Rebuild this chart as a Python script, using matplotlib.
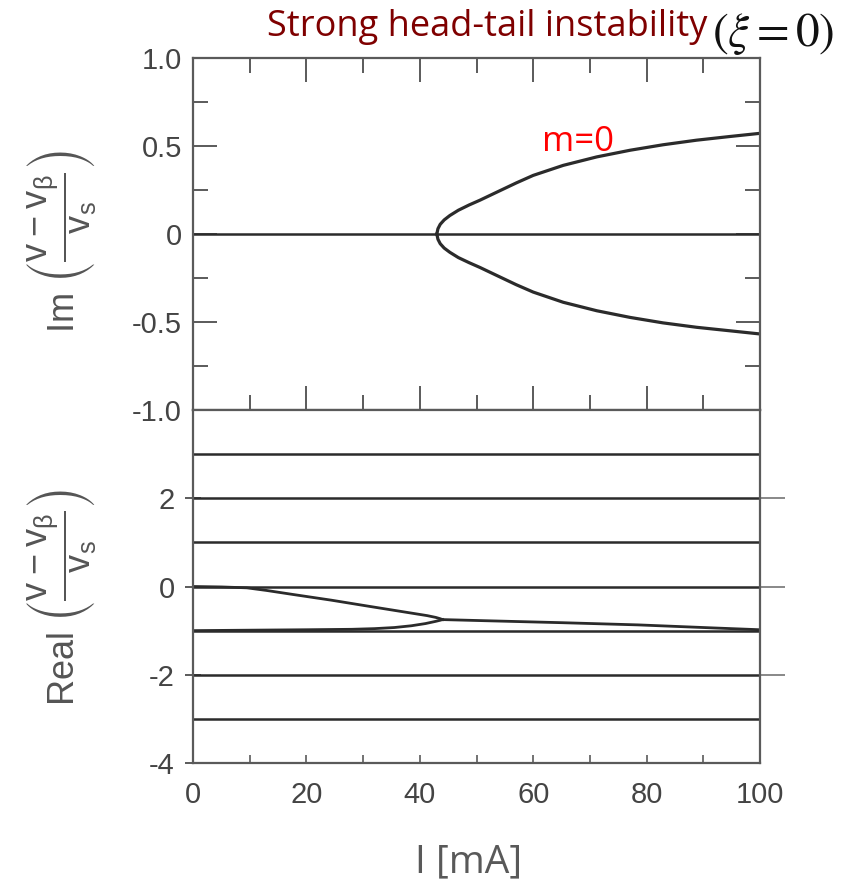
import numpy as np
import matplotlib
matplotlib.use('Agg')
import matplotlib.pyplot as plt
from matplotlib.ticker import MultipleLocator

# values
# top panel: imaginary part of the coupled modes
I_up = [43.0, 43.2, 43.6, 44.3, 45.3, 46.8, 48.7, 50.6, 53.6, 57.0, 60.0, 65.3, 71.2, 77.1, 82.9, 88.8, 94.7, 100.0]
im_up = [0.0, 0.03, 0.055, 0.08, 0.105, 0.135, 0.165, 0.192, 0.238, 0.29, 0.333, 0.39, 0.438, 0.476, 0.507, 0.533, 0.554, 0.572]
I_lo = [43.0, 43.2, 43.6, 44.3, 45.3, 46.8, 48.7, 50.6, 53.6, 57.0, 60.0, 65.3, 71.2, 77.1, 82.9, 88.8, 94.7, 100.0]
im_lo = [0.0, -0.03, -0.055, -0.08, -0.104, -0.134, -0.163, -0.19, -0.236, -0.288, -0.33, -0.388, -0.436, -0.474, -0.505, -0.53, -0.55, -0.568]

# bottom panel: real part
I_m0 = [0, 5, 9.5, 13, 17.6, 24.4, 31.1, 37.9, 41.3, 42.8, 43.6, 44.0]
re_m0 = [0.0, -0.01, -0.03, -0.09, -0.18, -0.31, -0.45, -0.59, -0.66, -0.70, -0.73, -0.75]
I_m1 = [0, 10, 20, 28, 32.0, 35.5, 38.5, 41.0, 42.8, 43.6, 44.0]
re_m1 = [-1.0, -0.99, -0.98, -0.97, -0.955, -0.93, -0.89, -0.84, -0.79, -0.765, -0.75]
I_merge = [44.0, 51.4, 65.0, 78.5, 92.0, 100.0]
re_merge = [-0.75, -0.775, -0.82, -0.87, -0.94, -0.98]
mode_lines = [3, 2, 1, 0, -1, -2, -3]

im_ticks = [-1.0, -0.5, 0, 0.5, 1.0]
im_labels = ['-1.0', '-0.5', '0', '0.5', '1.0']
re_ticks = [-4, -2, 0, 2]
re_labels = ['-4', '-2', '0', '2']
x_ticks = [0, 20, 40, 60, 80, 100]

line_c = '#2b2b2b'
spine_c = '#5a5a5a'
text_c = '#444444'

fig = plt.figure(figsize=(8.51, 8.90), dpi=100)
W, H = 851, 890
ax1 = fig.add_axes([193 / W, 1 - 410 / H, 567 / W, 352 / H])
ax2 = fig.add_axes([193 / W, 1 - 763 / H, 567 / W, 353 / H])

for ax in (ax1, ax2):
    for s in ax.spines.values():
        s.set_color(spine_c)
        s.set_linewidth(1.6)
    ax.set_xlim(0, 100)

# --- top panel ---
ax1.set_ylim(-1, 1)
ax1.axhline(0, color=line_c, lw=1.8)
ax1.plot(I_up, im_up, color=line_c, lw=2.3)
ax1.plot(I_lo, im_lo, color=line_c, lw=2.3)
ax1.set_yticks(im_ticks, im_labels)
ax1.yaxis.set_minor_locator(MultipleLocator(0.25))
ax1.set_xticks(x_ticks)
ax1.xaxis.set_minor_locator(MultipleLocator(10))
ax1.tick_params(which='both', direction='in', top=True, right=True,
                labelbottom=False, color=spine_c, width=1.4,
                labelsize=21, labelcolor=text_c, pad=8)
ax1.tick_params(which='major', length=17)
ax1.tick_params(which='minor', length=11)
for lab in ax1.get_yticklabels():
    lab.set_family('Liberation Sans')

ax1.text(61.5, 0.52, 'm=0', color='#ff0000', fontsize=25,
         family='Open Sans', va='center', ha='left')

# --- bottom panel ---
ax2.set_ylim(-4, 4)
for y in mode_lines:
    ax2.axhline(y, color=line_c, lw=1.8)
ax2.plot(I_m0, re_m0, color=line_c, lw=2.0)
ax2.plot(I_m1, re_m1, color=line_c, lw=2.0)
ax2.plot(I_merge, re_merge, color=line_c, lw=2.0)
ax2.set_yticks(re_ticks, re_labels)
ax2.set_xticks(x_ticks)
ax2.xaxis.set_minor_locator(MultipleLocator(10))
ax2.tick_params(axis='y', direction='inout', length=12, color=spine_c,
                width=1.4, labelsize=21, labelcolor=text_c, pad=7)
ax2.tick_params(axis='x', which='both', direction='in', length=6, top=False,
                color=spine_c, width=1.2, labelsize=21, labelcolor=text_c, pad=13)
for lab in ax2.get_yticklabels() + ax2.get_xticklabels():
    lab.set_family('Liberation Sans')

sec = ax2.secondary_yaxis('right')
sec.set_yticks([-2, 0, 2])
sec.tick_params(direction='out', length=18, color='#888888', width=1.4,
                labelright=False)
sec.spines['right'].set_visible(False)

# axis labels
frac = r'\left(\dfrac{\mathregular{v - v_{\beta}}}{\mathregular{v_{s}}}\right)'
ylab_im = r'Im $' + frac + '$'
ylab_re = r'Real $' + frac + '$'
fig.text(62 / W, 1 - 242 / H, ylab_im, rotation=90, ha='center', va='center',
         fontsize=26, color='#555555', family='Liberation Sans',
         math_fontfamily='dejavusans')
fig.text(62 / W, 1 - 597 / H, ylab_re, rotation=90, ha='center', va='center',
         fontsize=26, color='#555555', family='Liberation Sans',
         math_fontfamily='dejavusans')

fig.text(469 / W, 1 - 862 / H, 'I [mA]', ha='center', va='center',
         fontsize=28, color='#595959', family='Open Sans')

# title
fig.text(267 / W, 1 - 27 / H, 'Strong head-tail instability', ha='left',
         va='center', fontsize=26, color='#7f0000', family='Open Sans')
fig.text(712 / W, 1 - 34 / H, r'$(\xi=0)$', ha='left', va='center',
         fontsize=34, color='#111111', math_fontfamily='stix')

fig.savefig('out.png', dpi=100)
